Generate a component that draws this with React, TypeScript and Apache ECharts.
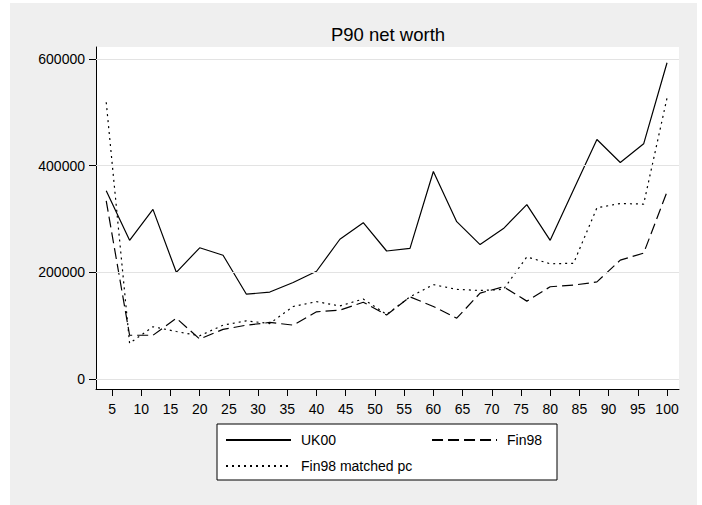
import { useRef, useEffect } from "react";
import * as echarts from "echarts";
import type { EChartsOption } from "echarts";

// percentile points (x) and P90 net worth per series
const percentiles = [
  4, 8, 12, 16, 20, 24, 28, 32, 36, 40, 44, 48, 52, 56, 60, 64, 68, 72, 76, 80,
  84, 88, 92, 96, 100,
];
const uk00 = [
  353000, 260000, 318000, 200000, 246000, 232000, 159000, 163000, 181000,
  202000, 262000, 293000, 240000, 245000, 389000, 295000, 252000, 282000,
  327000, 260000, 355000, 449000, 406000, 441000, 593000,
];
const fin98 = [
  334000, 82000, 82000, 114000, 75000, 93000, 101000, 106000, 101000, 126000,
  129000, 144000, 120000, 154000, 136000, 114000, 161000, 173000, 146000,
  173000, 176000, 182000, 223000, 236000, 351000,
];
const fin98Matched = [
  519000, 67000, 98000, 89000, 81000, 101000, 109000, 104000, 136000, 145000,
  137000, 150000, 121000, 154000, 177000, 168000, 166000, 168000, 229000,
  216000, 217000, 321000, 329000, 328000, 527000,
];
const xTicks = [
  5, 10, 15, 20, 25, 30, 35, 40, 45, 50, 55, 60, 65, 70, 75, 80, 85, 90, 95,
  100,
];
const yTicks = [0, 200000, 400000, 600000];

const FONT = "'Liberation Sans', Arial, Helvetica, sans-serif";

const pairs = (ys: number[]) => percentiles.map((x, i) => [x, ys[i]]);

export default function App() {
  const chartRef = useRef<HTMLDivElement>(null);

  useEffect(() => {
    if (!chartRef.current) return;
    const chart = echarts.init(chartRef.current, null, { renderer: "svg" });

    const legendText = {
      color: "#000",
      fontSize: 14,
      fontFamily: FONT,
      padding: [0, 0, 0, 5],
    };

    const option: EChartsOption = {
      animation: false,
      textStyle: { fontFamily: FONT },
      graphic: [
        {
          type: "rect",
          z: -100,
          shape: { x: 10, y: 3, width: 687, height: 510 },
          style: { fill: "#efefef" },
          silent: true,
        },
        {
          type: "rect",
          z: 0,
          shape: { x: 217, y: 424, width: 340, height: 56 },
          style: { fill: "#fff", stroke: "#000", lineWidth: 1 },
          silent: true,
        },
      ],
      title: {
        text: "P90 net worth",
        left: 388,
        top: 25,
        textAlign: "center",
        padding: 0,
        textStyle: {
          color: "#000",
          fontSize: 18.5,
          fontWeight: "normal",
          fontFamily: FONT,
        },
      },
      legend: [
        {
          data: ["UK00", "Fin98"],
          left: 225,
          top: 433,
          padding: 0,
          itemWidth: 65,
          itemHeight: 14,
          itemGap: 95,
          itemStyle: { opacity: 0 },
          textStyle: legendText,
          selectedMode: false,
        },
        {
          data: ["Fin98 matched pc"],
          left: 225,
          top: 459,
          padding: 0,
          itemWidth: 65,
          itemHeight: 14,
          itemStyle: { opacity: 0 },
          textStyle: legendText,
          selectedMode: false,
        },
      ],
      grid: {
        left: 96,
        right: 23,
        top: 47,
        bottom: 116,
        show: true,
        backgroundColor: "#fff",
        borderWidth: 0,
      },
      xAxis: {
        type: "value",
        min: 2.25,
        max: 102.05,
        axisLine: { onZero: false, lineStyle: { color: "#000", width: 1 } },
        axisTick: {
          customValues: xTicks,
          length: 7,
          lineStyle: { color: "#000", width: 1 },
        },
        axisLabel: {
          customValues: xTicks,
          formatter: (v: number) => String(v),
          color: "#000",
          fontSize: 14,
          fontFamily: FONT,
          margin: 13,
        },
        splitLine: { show: false },
      },
      yAxis: {
        type: "value",
        min: -18750,
        max: 622500,
        axisLine: {
          show: true,
          onZero: false,
          lineStyle: { color: "#000", width: 1 },
        },
        axisTick: {
          show: true,
          customValues: yTicks,
          length: 7,
          lineStyle: { color: "#000", width: 1 },
        },
        axisLabel: {
          customValues: yTicks,
          formatter: (v: number) => String(v),
          color: "#000",
          fontSize: 14,
          fontFamily: FONT,
          margin: 11,
        },
        splitLine: { show: false },
      },
      series: [
        {
          name: "grid",
          type: "line",
          data: [],
          z: 1,
          markLine: {
            silent: true,
            symbol: ["none", "none"],
            label: { show: false },
            lineStyle: { color: "#e3e3e3", type: "solid", width: 1.2 },
            data: yTicks.map((v) => ({ yAxis: v })),
          },
        },
        {
          name: "UK00",
          type: "line",
          data: pairs(uk00),
          symbol: "none",
          z: 3,
          lineStyle: { color: "#000", width: 1.2, type: "solid" },
          itemStyle: { color: "#000" },
        },
        {
          name: "Fin98",
          type: "line",
          data: pairs(fin98),
          symbol: "none",
          z: 3,
          lineStyle: { color: "#000", width: 1.2, type: [11, 5] },
          itemStyle: { color: "#000" },
        },
        {
          name: "Fin98 matched pc",
          type: "line",
          data: pairs(fin98Matched),
          symbol: "none",
          z: 3,
          lineStyle: { color: "#000", width: 1.2, type: [2, 4] },
          itemStyle: { color: "#000" },
        },
      ],
    };

    chart.setOption(option);

    return () => {
      chart.dispose();
    };
  }, []);

  return (
    <div
      ref={chartRef}
      style={{ position: "absolute", left: 0, top: 0, width: 702, height: 505 }}
    />
  );
}
